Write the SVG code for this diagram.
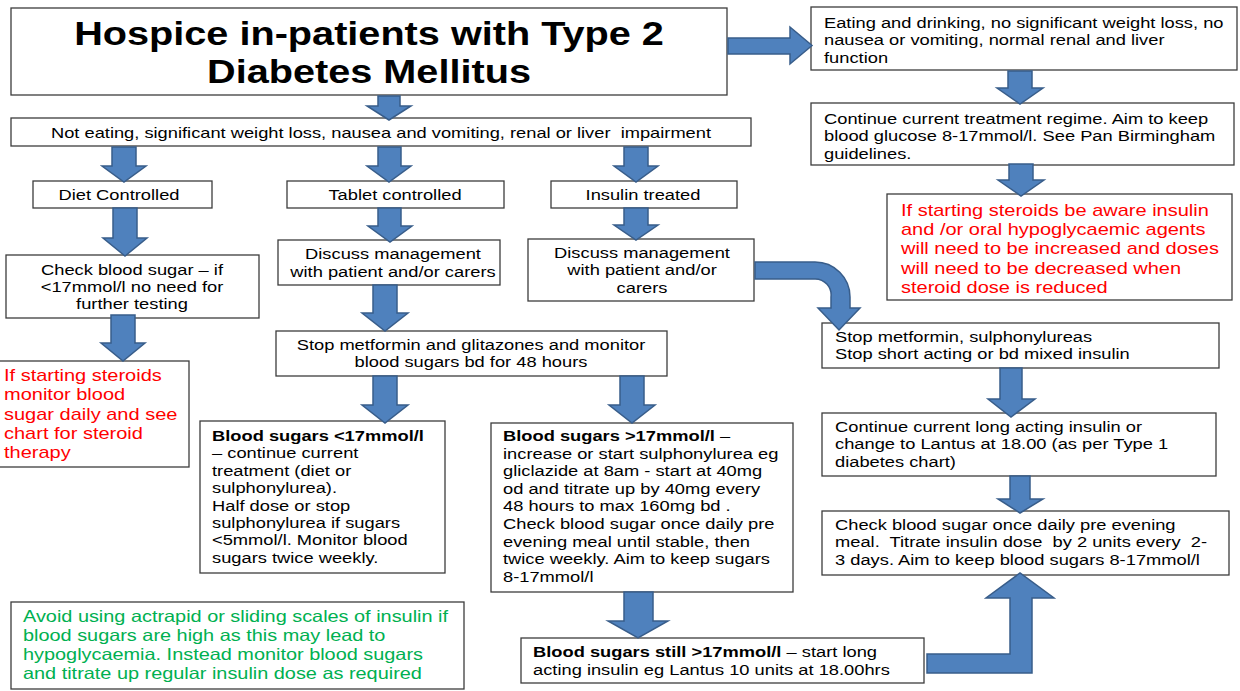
<svg xmlns="http://www.w3.org/2000/svg" width="1240" height="691" viewBox="0 0 1240 691">
<style>
.box{fill:#fff;stroke:#3c3c3c;stroke-width:1.3}
.t{font-family:"Liberation Sans",Arial,sans-serif;font-size:15px;fill:#000}
.m{text-anchor:middle}
.b{font-weight:bold}
.pre{white-space:pre}
.red{font-size:16.4px;fill:#ff0000}
.grn{font-size:16.3px;fill:#00b050}
.title{font-family:"Liberation Sans",Arial,sans-serif;font-size:32.5px;font-weight:bold;text-anchor:middle;fill:#000}
.arr{fill:#4f81bd;stroke:#385d8a;stroke-width:1.5;stroke-linejoin:miter}
</style>
<rect width="1240" height="691" fill="#fff"/>
<g id="title">
<rect class="box" x="11" y="8" width="716" height="87"/>
<text class="title" transform="translate(369,45) scale(1.22,1)"><tspan x="0" y="0">Hospice in-patients with Type 2</tspan><tspan x="0" y="38">Diabetes Mellitus</tspan></text>
</g>
<g id="eating">
<rect class="box" x="811" y="7" width="426" height="63"/>
<text class="t" transform="translate(824,28) scale(1.22,1)"><tspan x="0" y="0">Eating and drinking, no significant weight loss, no</tspan><tspan x="0" y="17.5">nausea or vomiting, normal renal and liver</tspan><tspan x="0" y="35">function</tspan></text>
</g>
<g id="continue-regime">
<rect class="box" x="811" y="103" width="423" height="62"/>
<text class="t" transform="translate(824,124) scale(1.22,1)"><tspan x="0" y="0">Continue current treatment regime. Aim to keep</tspan><tspan x="0" y="17.5">blood glucose 8-17mmol/l. See Pan Birmingham</tspan><tspan x="0" y="35">guidelines.</tspan></text>
</g>
<g id="steroids-right">
<rect class="box" x="887" y="194" width="345" height="106"/>
<text class="t red" transform="translate(901,216) scale(1.22,1)"><tspan x="0" y="0">If starting steroids be aware insulin</tspan><tspan x="0" y="19.2">and /or oral hypoglycaemic agents</tspan><tspan x="0" y="38.4">will need to be increased and doses</tspan><tspan x="0" y="57.6">will need to be decreased when</tspan><tspan x="0" y="76.8">steroid dose is reduced</tspan></text>
</g>
<g id="not-eating">
<rect class="box" x="11" y="118" width="740" height="28"/>
<text class="t m pre" xml:space="preserve" x="381" y="138" textLength="660" lengthAdjust="spacingAndGlyphs">Not eating, significant weight loss, nausea and vomiting, renal or liver  impairment</text>
</g>
<g id="diet">
<rect class="box" x="33" y="181" width="179" height="27"/>
<text class="t m" transform="translate(119,200) scale(1.22,1)">Diet Controlled</text>
</g>
<g id="tablet">
<rect class="box" x="287" y="181" width="217" height="27"/>
<text class="t m" transform="translate(395,200) scale(1.22,1)">Tablet controlled</text>
</g>
<g id="insulin">
<rect class="box" x="551" y="181" width="186" height="27"/>
<text class="t m" transform="translate(643,200) scale(1.22,1)">Insulin treated</text>
</g>
<g id="check-diet">
<rect class="box" x="6" y="255" width="253" height="63"/>
<text class="t m" transform="translate(132,275) scale(1.22,1)"><tspan x="0" y="0">Check blood sugar – if</tspan><tspan x="0" y="17">&lt;17mmol/l no need for</tspan><tspan x="0" y="34">further testing</tspan></text>
</g>
<g id="steroids-left">
<rect class="box" x="-1" y="361" width="190" height="106"/>
<text class="t red" transform="translate(4,381) scale(1.22,1)"><tspan x="0" y="0">If starting steroids</tspan><tspan x="0" y="19.3">monitor blood</tspan><tspan x="0" y="38.6">sugar daily and see</tspan><tspan x="0" y="57.9">chart for steroid</tspan><tspan x="0" y="77.2">therapy</tspan></text>
</g>
<g id="discuss-tablet">
<rect class="box" x="278" y="240" width="222" height="45"/>
<text class="t m" transform="translate(393,259) scale(1.22,1)"><tspan x="0" y="0">Discuss management</tspan><tspan x="0" y="18">with patient and/or carers</tspan></text>
</g>
<g id="stop-glitazones">
<rect class="box" x="276" y="331" width="391" height="45"/>
<text class="t m" transform="translate(471,350) scale(1.22,1)"><tspan x="0" y="0">Stop metformin and glitazones and monitor</tspan><tspan x="0" y="17">blood sugars bd for 48 hours</tspan></text>
</g>
<g id="below-17">
<rect class="box" x="200" y="421" width="245" height="152"/>
<text class="t" transform="translate(212,441) scale(1.22,1)"><tspan x="0" y="0" class="b">Blood sugars &lt;17mmol/l</tspan><tspan x="0" y="17.4">– continue current</tspan><tspan x="0" y="34.8">treatment (diet or</tspan><tspan x="0" y="52.2">sulphonylurea).</tspan><tspan x="0" y="69.6">Half dose or stop</tspan><tspan x="0" y="87">sulphonylurea if sugars</tspan><tspan x="0" y="104.4">&lt;5mmol/l. Monitor blood</tspan><tspan x="0" y="121.8">sugars twice weekly.</tspan></text>
</g>
<g id="above-17">
<rect class="box" x="491" y="423" width="302" height="169"/>
<text class="t" transform="translate(503,441) scale(1.22,1)"><tspan x="0" y="0"><tspan class="b">Blood sugars &gt;17mmol/l</tspan> –</tspan><tspan x="0" y="17.6">increase or start sulphonylurea eg</tspan><tspan x="0" y="35.2">gliclazide at 8am - start at 40mg</tspan><tspan x="0" y="52.8">od and titrate up by 40mg every</tspan><tspan x="0" y="70.4">48 hours to max 160mg bd .</tspan><tspan x="0" y="88">Check blood sugar once daily pre</tspan><tspan x="0" y="105.6">evening meal until stable, then</tspan><tspan x="0" y="123.2">twice weekly. Aim to keep sugars</tspan><tspan x="0" y="140.8">8-17mmol/l</tspan></text>
</g>
<g id="still-above-17">
<rect class="box" x="521" y="638" width="403" height="45"/>
<text class="t" transform="translate(533,657) scale(1.22,1)"><tspan x="0" y="0"><tspan class="b">Blood sugars still &gt;17mmol/l</tspan> – start long</tspan><tspan x="0" y="18">acting insulin eg Lantus 10 units at 18.00hrs</tspan></text>
</g>
<g id="discuss-insulin">
<rect class="box" x="528" y="239" width="226" height="62"/>
<text class="t m" transform="translate(642,258) scale(1.22,1)"><tspan x="0" y="0">Discuss management</tspan><tspan x="0" y="17.5">with patient and/or</tspan><tspan x="0" y="35">carers</tspan></text>
</g>
<g id="stop-sulph">
<rect class="box" x="822" y="323" width="397" height="45"/>
<text class="t" transform="translate(835,342) scale(1.22,1)"><tspan x="0" y="0">Stop metformin, sulphonylureas</tspan><tspan x="0" y="17.5">Stop short acting or bd mixed insulin</tspan></text>
</g>
<g id="continue-long">
<rect class="box" x="822" y="413" width="394" height="63"/>
<text class="t" transform="translate(835,432) scale(1.22,1)"><tspan x="0" y="0">Continue current long acting insulin or</tspan><tspan x="0" y="17.5">change to Lantus at 18.00 (as per Type 1</tspan><tspan x="0" y="35">diabetes chart)</tspan></text>
</g>
<g id="check-once">
<rect class="box" x="822" y="511" width="407" height="64"/>
<text class="t pre" xml:space="preserve" transform="translate(835,530) scale(1.22,1)"><tspan x="0" y="0">Check blood sugar once daily pre evening</tspan><tspan x="0" y="17.5">meal.  Titrate insulin dose  by 2 units every  2-</tspan><tspan x="0" y="35">3 days. Aim to keep blood sugars 8-17mmol/l</tspan></text>
</g>
<g id="avoid">
<rect class="box" x="11" y="602" width="453" height="87"/>
<text class="t grn" transform="translate(23,622) scale(1.22,1)"><tspan x="0" y="0">Avoid using actrapid or sliding scales of insulin if</tspan><tspan x="0" y="19">blood sugars are high as this may lead to</tspan><tspan x="0" y="38">hypoglycaemia. Instead monitor blood sugars</tspan><tspan x="0" y="57">and titrate up regular insulin dose as required</tspan></text>
</g>
<g id="connectors">
<path class="arr" d="M378,96 H400 V106 H411 L389,120 L367,106 H378 Z"/>
<path class="arr" d="M728,38 H790 V27 L812,45.5 L790,64 V54 H728 Z"/>
<path class="arr" d="M112,147 H136 V166 H146 L124,182 L102,166 H112 Z"/>
<path class="arr" d="M378,147 H401 V166 H411 L389,182 L367,166 H378 Z"/>
<path class="arr" d="M624,147 H648 V166 H658 L636,182 L614,166 H624 Z"/>
<path class="arr" d="M113,208 H137 V238 H147 L125,256 L103,238 H113 Z"/>
<path class="arr" d="M111,315 H135 V343 H145 L123,361 L101,343 H111 Z"/>
<path class="arr" d="M378,208 H401 V226 H412 L390,242 L368,226 H378 Z"/>
<path class="arr" d="M373,285 H397 V313 H408 L385,331 L362,313 H373 Z"/>
<path class="arr" d="M373,376 H397 V405 H408 L385,423 L362,405 H373 Z"/>
<path class="arr" d="M620,376 H644 V405 H655 L632,423 L609,405 H620 Z"/>
<path class="arr" d="M624,592 H653 V621 H668 L638,638 L608,621 H624 Z"/>
<path class="arr" d="M624,208 H648 V225 H658 L636,240 L614,225 H624 Z"/>
<path class="arr" d="M1008,71 H1032 V88 H1043 L1020,104 L997,88 H1008 Z"/>
<path class="arr" d="M1009,164 H1033 V180 H1044 L1021,196 L998,180 H1009 Z"/>
<path class="arr" d="M1000,368 H1022 V399 H1035 L1011,417 L988,399 H1000 Z"/>
<path class="arr" d="M1010,476 H1030 V499 H1043 L1020,513 L998,499 H1010 Z"/>
<path class="arr" d="M755,262 H815 A35,35 0 0 1 850,297 V308 H860 L839,330 L818,308 H831 V297 A16,16 0 0 0 815,279 H755 Z"/>
<path class="arr" d="M927,654 H1010 V598 H986 L1020,573 L1054,598 H1032 V673 H927 Z"/>
</g>
</svg>
